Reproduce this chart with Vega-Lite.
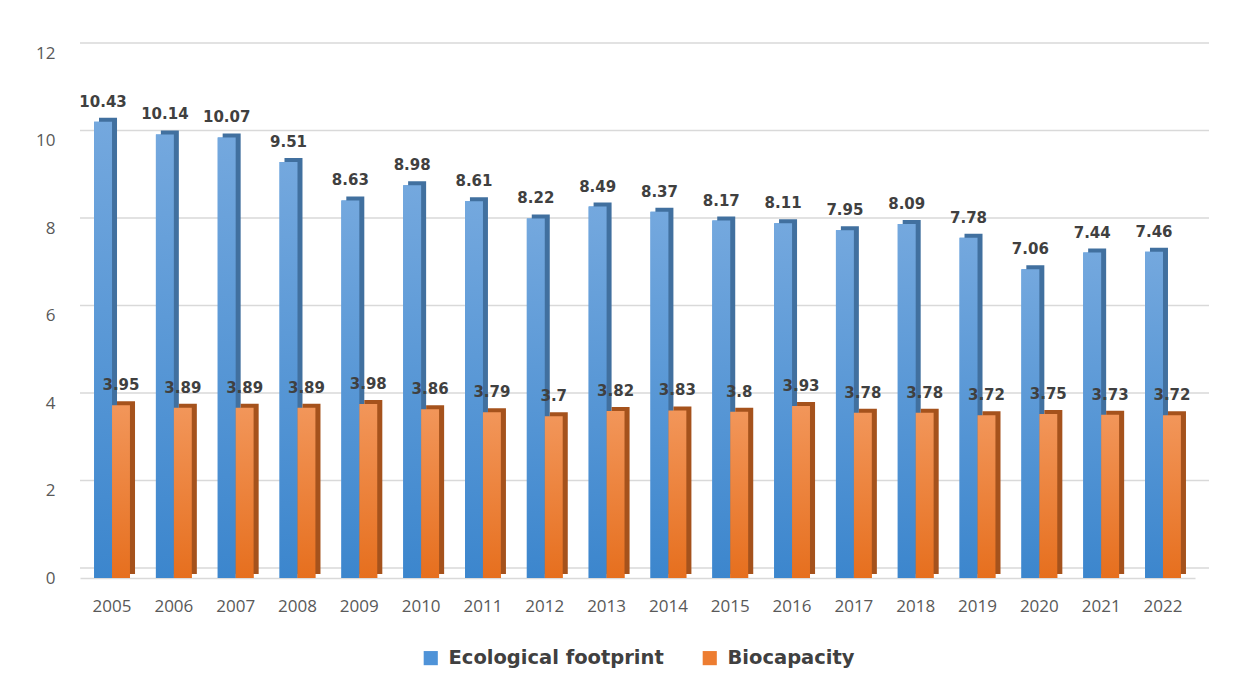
{
  "$schema": "https://vega.github.io/schema/vega-lite/v6.json",
  "width": 1115,
  "height": 525,
  "autosize": {"type": "none"},
  "padding": {"left": 80, "top": 53, "right": 47, "bottom": 111},
  "background": "white",
  "config": {
    "view": {"stroke": null},
    "axis": {"labelFont": "Open Sans", "labelFontSize": 17, "labelColor": "#595959", "ticks": false, "grid": false, "title": null}
  },
  "datasets": {
    "grid": [{"g": 0}, {"g": 2}, {"g": 4}, {"g": 6}, {"g": 8}, {"g": 10}, {"g": 12}]
  },
  "data": {
    "values": [
      {"year": "2005", "series": "Ecological footprint", "value": 10.43},
      {"year": "2006", "series": "Ecological footprint", "value": 10.14},
      {"year": "2007", "series": "Ecological footprint", "value": 10.07},
      {"year": "2008", "series": "Ecological footprint", "value": 9.51},
      {"year": "2009", "series": "Ecological footprint", "value": 8.63},
      {"year": "2010", "series": "Ecological footprint", "value": 8.98},
      {"year": "2011", "series": "Ecological footprint", "value": 8.61},
      {"year": "2012", "series": "Ecological footprint", "value": 8.22},
      {"year": "2013", "series": "Ecological footprint", "value": 8.49},
      {"year": "2014", "series": "Ecological footprint", "value": 8.37},
      {"year": "2015", "series": "Ecological footprint", "value": 8.17},
      {"year": "2016", "series": "Ecological footprint", "value": 8.11},
      {"year": "2017", "series": "Ecological footprint", "value": 7.95},
      {"year": "2018", "series": "Ecological footprint", "value": 8.09},
      {"year": "2019", "series": "Ecological footprint", "value": 7.78},
      {"year": "2020", "series": "Ecological footprint", "value": 7.06},
      {"year": "2021", "series": "Ecological footprint", "value": 7.44},
      {"year": "2022", "series": "Ecological footprint", "value": 7.46},
      {"year": "2005", "series": "Biocapacity", "value": 3.95},
      {"year": "2006", "series": "Biocapacity", "value": 3.89},
      {"year": "2007", "series": "Biocapacity", "value": 3.89},
      {"year": "2008", "series": "Biocapacity", "value": 3.89},
      {"year": "2009", "series": "Biocapacity", "value": 3.98},
      {"year": "2010", "series": "Biocapacity", "value": 3.86},
      {"year": "2011", "series": "Biocapacity", "value": 3.79},
      {"year": "2012", "series": "Biocapacity", "value": 3.7},
      {"year": "2013", "series": "Biocapacity", "value": 3.82},
      {"year": "2014", "series": "Biocapacity", "value": 3.83},
      {"year": "2015", "series": "Biocapacity", "value": 3.8},
      {"year": "2016", "series": "Biocapacity", "value": 3.93},
      {"year": "2017", "series": "Biocapacity", "value": 3.78},
      {"year": "2018", "series": "Biocapacity", "value": 3.78},
      {"year": "2019", "series": "Biocapacity", "value": 3.72},
      {"year": "2020", "series": "Biocapacity", "value": 3.75},
      {"year": "2021", "series": "Biocapacity", "value": 3.73},
      {"year": "2022", "series": "Biocapacity", "value": 3.72}
    ]
  },
  "encoding": {
    "x": {
      "field": "year", "type": "nominal",
      "scale": {"paddingInner": 0.42, "paddingOuter": 0.228},
      "axis": {"labelAngle": 0, "labelPadding": 20, "domain": true, "domainColor": "#d9d9d9", "domainWidth": 1.5}
    },
    "xOffset": {"field": "series", "type": "nominal", "sort": ["Ecological footprint", "Biocapacity"]},
    "y": {
      "field": "value", "type": "quantitative",
      "scale": {"domain": [0, 12], "nice": false},
      "axis": {"values": [0, 2, 4, 6, 8, 10, 12], "labelPadding": 25, "domain": false}
    }
  },
  "layer": [
    {
      "data": {"name": "grid"},
      "mark": {"type": "rule", "color": "#d9d9d9", "strokeWidth": 1.5, "xOffset": 14, "yOffset": -10},
      "encoding": {
        "x": null,
        "xOffset": null,
        "y": {"field": "g", "type": "quantitative"}
      }
    },
    {
      "mark": {"type": "bar"},
      "encoding": {
        "color": {
          "field": "series", "type": "nominal",
          "sort": ["Ecological footprint", "Biocapacity"],
          "scale": {"domain": ["Ecological footprint", "Biocapacity"], "range": ["#4f93d8", "#ed7d31"]},
          "legend": {
            "title": null, "orient": "none", "direction": "horizontal",
            "legendX": 341, "legendY": 595, "padding": 0,
            "symbolType": "square", "symbolSize": 200, "symbolStrokeWidth": 0,
            "labelFont": "DejaVu Sans", "labelFontWeight": "bold", "labelFontSize": 19.5,
            "labelColor": "#404040", "labelOffset": 8, "labelLimit": 0, "columnPadding": 36
          }
        }
      }
    },
    {
      "transform": [{"filter": "datum.series === 'Ecological footprint'"}],
      "mark": {"type": "bar", "width": 18, "xOffset": -4, "yOffset": -4, "color": "#41709f"},
      "encoding": {"xOffset": null}
    },
    {
      "transform": [{"filter": "datum.series === 'Biocapacity'"}],
      "mark": {"type": "bar", "width": 18, "xOffset": 14, "yOffset": -4, "color": "#a5521c"},
      "encoding": {"xOffset": null}
    },
    {
      "transform": [{"filter": "datum.series === 'Ecological footprint'"}],
      "mark": {
        "type": "bar",
        "fill": {"gradient": "linear", "x1": 0, "y1": 0, "x2": 0, "y2": 1,
          "stops": [{"offset": 0, "color": "#74a8de"}, {"offset": 1, "color": "#3c86cd"}]}
      }
    },
    {
      "transform": [{"filter": "datum.series === 'Biocapacity'"}],
      "mark": {
        "type": "bar",
        "fill": {"gradient": "linear", "x1": 0, "y1": 0, "x2": 0, "y2": 1,
          "stops": [{"offset": 0, "color": "#f2965a"}, {"offset": 1, "color": "#e66f1e"}]}
      }
    },
    {
      "mark": {"type": "text", "font": "DejaVu Sans", "fontWeight": "bold", "fontSize": 15, "color": "#404040", "baseline": "bottom", "dy": -12},
      "encoding": {
        "text": {"field": "value", "type": "quantitative"}
      }
    }
  ]
}
